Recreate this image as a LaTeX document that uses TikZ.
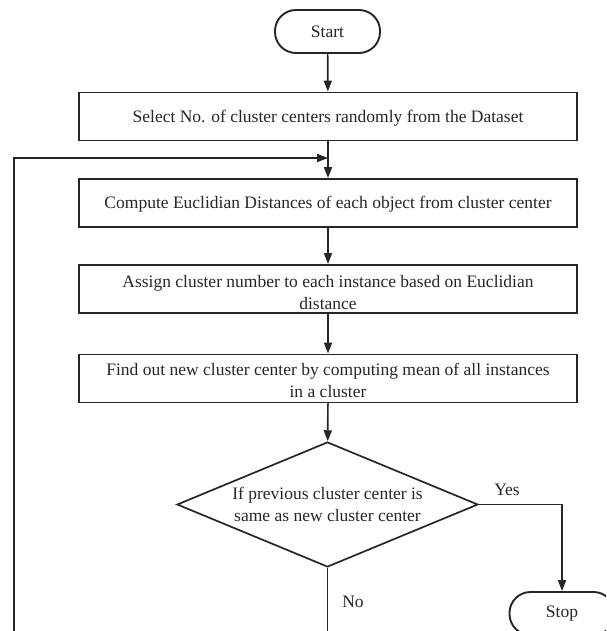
\documentclass[tikz,border=0pt]{standalone}
\usepackage{fontspec}
\setmainfont{Liberation Serif}
\usetikzlibrary{shapes.geometric,arrows.meta}
\begin{document}
\begin{tikzpicture}[x=1pt,y=-1pt,
  every node/.style={font=\fontsize{17.5}{22}\selectfont, text=black!85},
  stepbox/.style={draw=black!85, line width=1.9pt, minimum width=498pt,
    minimum height=48pt, inner sep=0pt},
  steptext/.style={align=center, inner sep=0pt},
  terminal/.style={draw=black!85, line width=1.9pt, rounded corners=21pt,
    minimum width=105pt, minimum height=43pt, inner sep=0pt},
  decision/.style={draw=black!85, diamond, aspect=2.4, line width=1.7pt,
    minimum width=301pt, minimum height=125pt, inner sep=0pt, align=center},
  flow/.style={draw=black!85, line width=1.7pt, -{Triangle[length=11pt,width=8pt]}}]

  % page frame; the loop and the Stop terminal run past its lower edge
  \useasboundingbox (0,0) rectangle (606,631);
  \clip (0,0) rectangle (606,631);

  % terminals and decision
  \node[terminal] (start) at (327.5,31.5) {Start};
  \node[decision] (check) at (327.5,504.5)
    {If previous cluster center is\\same as new cluster center};
  \node[terminal] (stop) at (562,613.5) {Stop};

  % process boxes, with their captions set a little low
  \node[stepbox] (select) at (328,116.5) {};
  \node[steptext] (selecttxt) at (328,118.5)
    {Select No. of cluster centers randomly from the Dataset};
  \node[stepbox] (dist) at (328,203) {};
  \node[steptext] (disttxt) at (328,204.5)
    {Compute Euclidian Distances of each object from cluster center};
  \node[stepbox] (assign) at (328,289) {};
  \node[steptext] (assigntxt) at (328,292.5)
    {Assign cluster number to each instance based on Euclidian\\distance};
  \node[stepbox] (mean) at (328,378.5) {};
  \node[steptext] (meantxt) at (328,380.5)
    {Find out new cluster center by computing mean of all instances\\in a cluster};

  % branch labels
  \node (yes) at (507,490) {Yes};
  \node (no) at (353,602) {No};

  % loop-back helpers
  \coordinate (merge) at (328,158);
  \coordinate (loopbot) at (14,680);

  % main flow
  \draw[flow] (start) -- (select);
  \draw[flow] (select) -- (dist);
  \draw[flow] (dist) -- (assign);
  \draw[flow] (assign) -- (mean);
  \draw[flow] (mean) -- (check);
  \draw[flow] (check.east) -| (stop.north);

  % "No" branch returns to the distance step
  \draw[flow] (check.south) |- (loopbot) -- (loopbot |- merge) -- (merge);
\end{tikzpicture}
\end{document}
